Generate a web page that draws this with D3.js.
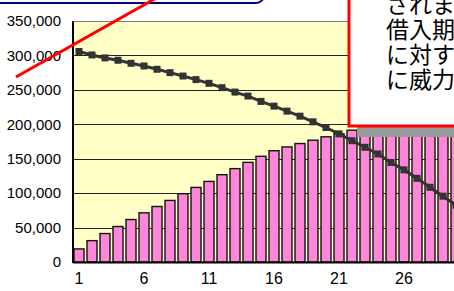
<!DOCTYPE html>
<html>
<head>
<meta charset="utf-8">
<script src="https://cdn.jsdelivr.net/npm/d3@7"></script>
<style>
  html, body { margin: 0; padding: 0; background: #fff; }
  svg { display: block; font-family: "Liberation Sans", Arial, sans-serif; }
</style>
</head>
<body>
<div id="chart"></div>
<script>
// year numbers on the x axis
const periods = [1, 2, 3, 4, 5, 6, 7, 8, 9, 10, 11, 12, 13, 14, 15, 16, 17, 18, 19, 20,
                 21, 22, 23, 24, 25, 26, 27, 28, 29, 30];
const tickPeriods = [1, 6, 11, 16, 21, 26];
const yTicks = [0, 50000, 100000, 150000, 200000, 250000, 300000, 350000];

// pink bars
const barValues = [19000, 31000, 41300, 51500, 61700, 71400, 80600, 89400, 99100, 108300,
                   117000, 126800, 135600, 144700, 153500, 161600, 167100, 172000, 176900, 181800,
                   186100, 191400, 196000, 200500, 205000, 209000, 213000, 217000, 221000, 225000];
// dark line with square markers
const lineValues = [305700, 300700, 296400, 293000, 288600, 284700, 279900, 275000, 270100, 264900,
                    259500, 253200, 246800, 241000, 233200, 226400, 219100, 211800, 203600, 195300,
                    186100, 176100, 166600, 156900, 144500, 133800, 121500, 108500, 95600, 82500];

// callout text (right box), clipped by the window edge
const noteLines = ["されま", "借入期", "に対す", "に威力"];

const width = 454, height = 291;
const plotLeft = 73, plotRight = 463, plotTop = 21, plotBottom = 262;

const svg = d3.select("#chart").append("svg")
    .attr("width", width)
    .attr("height", height);

const x = d3.scaleBand()
    .domain(periods)
    .range([plotLeft - 0.5, plotRight - 0.5])
    .paddingInner(0.23)
    .paddingOuter(0.115);

const y = d3.scaleLinear()
    .domain([0, 350000])
    .range([plotBottom, plotTop]);

// plot background
svg.append("rect")
    .attr("x", plotLeft)
    .attr("y", plotTop)
    .attr("width", plotRight - plotLeft)
    .attr("height", plotBottom - plotTop)
    .attr("fill", "#FFFFC6");

// gridlines
svg.append("g")
    .selectAll("line")
    .data(yTicks.slice(1))
    .join("line")
    .attr("x1", plotLeft)
    .attr("x2", plotRight)
    .attr("y1", d => Math.round(y(d)) + 0.5)
    .attr("y2", d => Math.round(y(d)) + 0.5)
    .attr("stroke", "#222")
    .attr("stroke-width", 1);

// bars
svg.append("g")
    .selectAll("rect")
    .data(barValues)
    .join("rect")
    .attr("x", (d, i) => x(periods[i]))
    .attr("y", d => y(d))
    .attr("width", x.bandwidth())
    .attr("height", d => plotBottom - y(d))
    .attr("fill", "#FF87DB")
    .attr("stroke", "#111")
    .attr("stroke-width", 1.4);

// line + markers
const line = d3.line()
    .x((d, i) => x(periods[i]) + x.bandwidth() / 2)
    .y(d => y(d));

svg.append("path")
    .datum(lineValues)
    .attr("d", line)
    .attr("fill", "none")
    .attr("stroke", "#333")
    .attr("stroke-width", 3);

svg.append("g")
    .selectAll("rect")
    .data(lineValues)
    .join("rect")
    .attr("x", (d, i) => x(periods[i]) + x.bandwidth() / 2 - 3.5)
    .attr("y", d => y(d) - 3.5)
    .attr("width", 7)
    .attr("height", 7)
    .attr("fill", "#333");

// axes
const yAxis = d3.axisLeft(y)
    .tickValues(yTicks)
    .tickSize(0)
    .tickPadding(12)
    .tickFormat(d3.format(","));

svg.append("g")
    .attr("transform", `translate(${plotLeft},0)`)
    .call(yAxis)
    .call(g => g.select(".domain").remove())
    .selectAll("text")
    .attr("font-size", 15)
    .attr("font-family", "Liberation Sans, Arial, sans-serif")
    .attr("fill", "#000");

const xAxis = d3.axisBottom(x)
    .tickValues(tickPeriods)
    .tickSize(0)
    .tickPadding(11);

svg.append("g")
    .attr("transform", `translate(0,${plotBottom})`)
    .call(xAxis)
    .call(g => g.select(".domain").remove())
    .selectAll("text")
    .attr("font-size", 16)
    .attr("font-family", "Liberation Sans, Arial, sans-serif")
    .attr("fill", "#000");

// axis lines
svg.append("line")
    .attr("x1", plotLeft).attr("x2", plotLeft)
    .attr("y1", plotTop).attr("y2", plotBottom + 1)
    .attr("stroke", "#000").attr("stroke-width", 2);
svg.append("line")
    .attr("x1", plotLeft).attr("x2", plotRight)
    .attr("y1", plotBottom + 0.5).attr("y2", plotBottom + 0.5)
    .attr("stroke", "#000").attr("stroke-width", 2);
svg.append("line")
    .attr("x1", plotLeft).attr("x2", plotRight)
    .attr("y1", plotTop + 0.5).attr("y2", plotTop + 0.5)
    .attr("stroke", "#777").attr("stroke-width", 1);

// callout box on the right with shadow
svg.append("rect")
    .attr("x", 357)
    .attr("y", 20)
    .attr("width", 120)
    .attr("height", 117)
    .attr("fill", "#999");

svg.append("rect")
    .attr("x", 349)
    .attr("y", -10)
    .attr("width", 130)
    .attr("height", 136)
    .attr("fill", "#fff")
    .attr("stroke", "#FF0000")
    .attr("stroke-width", 3);

svg.append("g")
    .selectAll("text")
    .data(noteLines)
    .join("text")
    .attr("x", 386)
    .attr("y", (d, i) => 13 + i * 25)
    .attr("font-family", "Noto Sans CJK JP, sans-serif")
    .attr("font-size", 23)
    .attr("fill", "#000")
    .text(d => d);

// rounded box at top-left, mostly off screen
svg.append("rect")
    .attr("x", -10)
    .attr("y", -30)
    .attr("width", 274)
    .attr("height", 33)
    .attr("rx", 8)
    .attr("fill", "#fff")
    .attr("stroke", "#000080")
    .attr("stroke-width", 2);

// red pointer line
svg.append("line")
    .attr("x1", 16).attr("y1", 77)
    .attr("x2", 158).attr("y2", -3)
    .attr("stroke", "#FF0000")
    .attr("stroke-width", 3);
</script>
</body>
</html>
